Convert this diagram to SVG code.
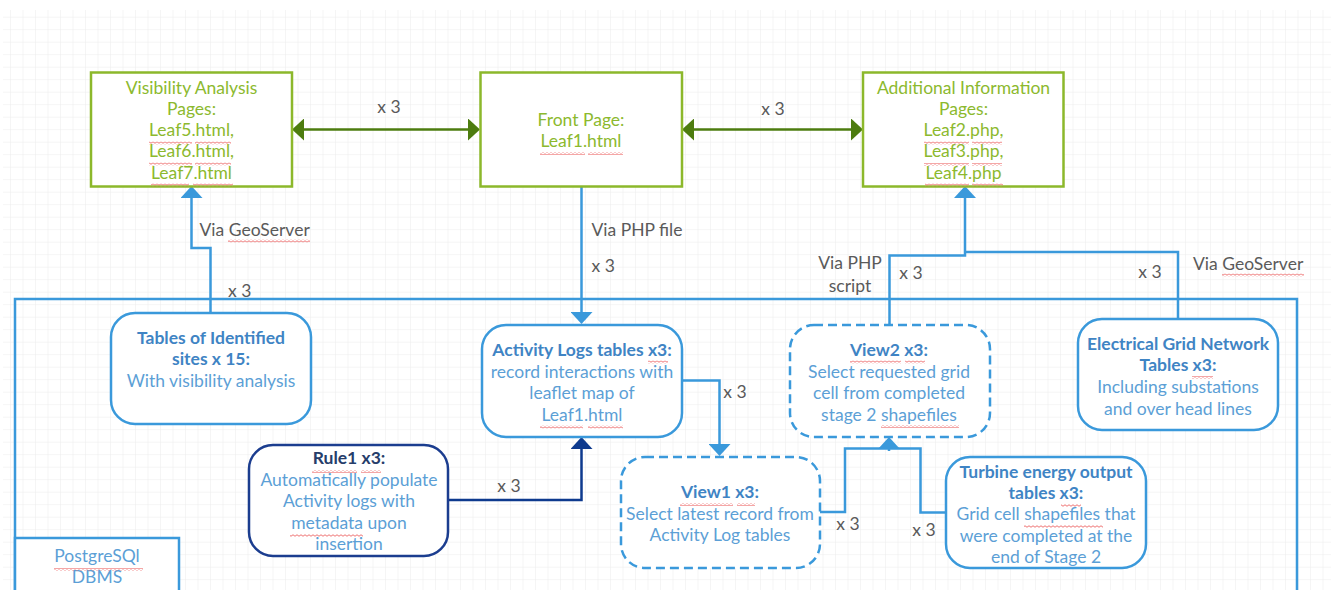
<svg xmlns="http://www.w3.org/2000/svg" width="1331" height="590" viewBox="0 0 1331 590">
<style>
text{font-family:Lato,"Open Sans","Liberation Sans",sans-serif;font-size:17.5px}
.gbox{fill:#fff;stroke:#8cb82b;stroke-width:2.5}
.gt{fill:#8cb92e;text-anchor:middle}
.bbox{fill:#fff;stroke:#3a99db;stroke-width:2.5}
.dash{stroke-dasharray:9 5}
.nbox{fill:#fff;stroke:#1b3d8f;stroke-width:2.5}
.bt{fill:#5c9fd6;text-anchor:middle}
.bh{fill:#3f84c4;font-weight:bold}
.nh{fill:#263d6a;font-weight:bold}
.lbl{fill:#5a5a5a}
.mid{text-anchor:middle}
.gc{fill:none;stroke:#4d7c0f;stroke-width:2.5}
.bc{fill:none;stroke:#3a99db;stroke-width:2.5}
.nc{fill:none;stroke:#0e3a8e;stroke-width:2.5}
.sq{fill:url(#squig)}
</style>
<defs>
<pattern id="grid" width="12.5" height="12.5" patternUnits="userSpaceOnUse" x="10" y="4.2">
<path d="M0,0 H12.5 M0,0 V12.5" fill="none" stroke="#ececec" stroke-width="1"/>
</pattern>
<pattern id="squig" width="4" height="3" patternUnits="userSpaceOnUse">
<path d="M0,1.5 Q1,0 2,1.5 T4,1.5" fill="none" stroke="#ee7272" stroke-width="1"/>
</pattern>
<marker id="ag" markerUnits="userSpaceOnUse" markerWidth="12" markerHeight="22" viewBox="0 0 12 22" refX="0" refY="11" orient="auto-start-reverse">
<path d="M0,0 L12,11 L0,22 z" fill="#4d7c0f"/>
</marker>
<marker id="ab" markerUnits="userSpaceOnUse" markerWidth="12" markerHeight="22" viewBox="0 0 12 22" refX="0" refY="11" orient="auto">
<path d="M0,0 L12,11 L0,22 z" fill="#3a99db"/>
</marker>
<marker id="an" markerUnits="userSpaceOnUse" markerWidth="12" markerHeight="22" viewBox="0 0 12 22" refX="0" refY="11" orient="auto">
<path d="M0,0 L12,11 L0,22 z" fill="#0e3a8e"/>
</marker>
</defs>
<rect width="1331" height="590" fill="#fff"/>
<rect x="3" y="10" width="1328" height="580" fill="url(#grid)"/>

<g id="connectors">
<path class="bc" d="M15,595 V299 H1297 V595"/>
<path class="gc" d="M304,129.5 H468" marker-start="url(#ag)" marker-end="url(#ag)"/>
<path class="gc" d="M694,129.5 H851" marker-start="url(#ag)" marker-end="url(#ag)"/>
<path class="bc" d="M210.5,313 V248 H191.5 V198" marker-end="url(#ab)"/>
<path class="bc" d="M581.5,186 V312" marker-end="url(#ab)"/>
<path class="bc" d="M889.5,325 V255.5 H965 V198" marker-end="url(#ab)"/>
<path class="bc" d="M1178,319 V252 H965"/>
<path class="bc" d="M682,380.5 H719.5 V444" marker-end="url(#ab)"/>
<path class="bc" d="M820,512 H845 V448.5 H920.5 V512.5 H946"/>
<path class="bc" d="M889,451 V449" marker-end="url(#ab)"/>
<path class="nc" d="M448,500 H581.5 V449" marker-end="url(#an)"/>
<text class="lbl mid" x="389" y="113">x 3</text>
<text class="lbl mid" x="773" y="115">x 3</text>
<text class="lbl" x="199.5" y="235.5">Via GeoServer</text>
<rect class="sq" x="228" y="239.5" width="82" height="3"/>
<text class="lbl" x="228" y="297">x 3</text>
<text class="lbl" x="591.5" y="235.5">Via PHP file</text>
<text class="lbl" x="591.5" y="272">x 3</text>
<text class="lbl mid" x="850" y="269">Via PHP</text>
<text class="lbl mid" x="850" y="291.5">script</text>
<text class="lbl mid" x="911" y="278.5">x 3</text>
<text class="lbl mid" x="1150" y="278">x 3</text>
<text class="lbl" x="1193" y="270">Via GeoServer</text>
<rect class="sq" x="1222" y="273.5" width="82" height="3"/>
<text class="lbl mid" x="735" y="398">x 3</text>
<text class="lbl mid" x="509" y="492">x 3</text>
<text class="lbl mid" x="848" y="530">x 3</text>
<text class="lbl mid" x="924" y="536">x 3</text>
</g>

<g id="visibility-pages">
<rect class="gbox" x="91" y="72.5" width="201" height="114"/>
<text class="gt"><tspan x="191.5" y="93.5">Visibility Analysis</tspan><tspan x="191.5" y="114.5">Pages:</tspan><tspan x="191.5" y="136">Leaf5.html,</tspan><tspan x="191.5" y="157">Leaf6.html,</tspan><tspan x="191.5" y="178.5">Leaf7.html</tspan></text>
<rect class="sq" x="149" y="141.5" width="43" height="3"/><rect class="sq" x="195" y="141.5" width="36" height="3"/>
<rect class="sq" x="149" y="162.5" width="43" height="3"/><rect class="sq" x="195" y="162.5" width="36" height="3"/>
<rect class="sq" x="151" y="183.5" width="38" height="3"/><rect class="sq" x="193" y="183.5" width="40" height="3"/>
</g>

<g id="front-page">
<rect class="gbox" x="480.5" y="72.5" width="201.5" height="114"/>
<text class="gt"><tspan x="581" y="126">Front Page:</tspan><tspan x="581" y="147">Leaf1.html</tspan></text>
<rect class="sq" x="540" y="152" width="45" height="3"/><rect class="sq" x="588" y="152" width="35" height="3"/>
</g>

<g id="additional-pages">
<rect class="gbox" x="863" y="72.5" width="200.5" height="114"/>
<text class="gt"><tspan x="963.5" y="93.5">Additional Information</tspan><tspan x="963.5" y="114.5">Pages:</tspan><tspan x="963.5" y="136">Leaf2.php,</tspan><tspan x="963.5" y="157">Leaf3.php,</tspan><tspan x="963.5" y="178.5">Leaf4.php</tspan></text>
<rect class="sq" x="924" y="141.5" width="45" height="3"/><rect class="sq" x="972" y="141.5" width="30" height="3"/>
<rect class="sq" x="924" y="163" width="45" height="3"/><rect class="sq" x="972" y="163" width="30" height="3"/>
<rect class="sq" x="925" y="183.5" width="44" height="3"/><rect class="sq" x="972" y="183.5" width="31" height="3"/>
</g>

<g id="identified-sites">
<rect class="bbox" x="111" y="313" width="200" height="111" rx="24"/>
<text class="bt"><tspan class="bh" x="211" y="343.5">Tables of Identified</tspan><tspan class="bh" x="211" y="365">sites x 15:</tspan><tspan x="211" y="386.5">With visibility analysis</tspan></text>
</g>

<g id="activity-logs">
<rect class="bbox" x="482" y="325" width="200" height="112" rx="24"/>
<text class="bt"><tspan class="bh" x="582" y="356">Activity Logs tables x3:</tspan><tspan x="582" y="377.5">record interactions with</tspan><tspan x="582" y="399">leaflet map of</tspan><tspan x="582" y="421">Leaf1.html</tspan></text>
<rect class="sq" x="648" y="360.5" width="20" height="3"/>
<rect class="sq" x="540" y="425.5" width="43" height="3"/><rect class="sq" x="588" y="425.5" width="35" height="3"/>
</g>

<g id="view2">
<rect class="bbox dash" x="790" y="325" width="200" height="112" rx="24"/>
<text class="bt"><tspan class="bh" x="889" y="356">View2 x3:</tspan><tspan x="889" y="377.5">Select requested grid</tspan><tspan x="889" y="399">cell from completed</tspan><tspan x="889" y="421">stage 2 shapefiles</tspan></text>
<rect class="sq" x="850" y="360.5" width="51" height="3"/><rect class="sq" x="905" y="360.5" width="20" height="3"/>
<rect class="sq" x="881" y="425" width="78" height="3"/>
</g>

<g id="electrical-grid">
<rect class="bbox" x="1078" y="319" width="200" height="111" rx="24"/>
<text class="bt"><tspan class="bh" x="1178" y="349.5">Electrical Grid Network</tspan><tspan class="bh" x="1178" y="371">Tables x3:</tspan><tspan x="1178" y="392.5">Including substations</tspan><tspan x="1178" y="414.5">and over head lines</tspan></text>
<rect class="sq" x="1192" y="376" width="21" height="3"/>
</g>

<g id="rule1">
<rect class="nbox" x="249" y="445" width="199" height="111" rx="24"/>
<text class="bt"><tspan class="nh" x="349" y="464">Rule1 x3:</tspan><tspan x="349" y="485.5">Automatically populate</tspan><tspan x="349" y="507">Activity logs with</tspan><tspan x="349" y="528.5">metadata upon</tspan><tspan x="349" y="549.5">insertion</tspan></text>
<rect class="sq" x="312" y="470" width="45" height="3"/><rect class="sq" x="361" y="470" width="20" height="3"/>
<rect class="sq" x="290" y="534" width="73" height="3"/>
</g>

<g id="view1">
<rect class="bbox dash" x="621" y="457" width="199" height="111" rx="24"/>
<text class="bt"><tspan class="bh" x="720" y="498">View1 x3:</tspan><tspan x="720" y="519.5">Select latest record from</tspan><tspan x="720" y="541">Activity Log tables</tspan></text>
<rect class="sq" x="680" y="503" width="53" height="3"/><rect class="sq" x="737" y="503" width="18" height="3"/>
</g>

<g id="turbine-output">
<rect class="bbox" x="946" y="457" width="200" height="111" rx="24"/>
<text class="bt"><tspan class="bh" x="1046" y="478">Turbine energy output</tspan><tspan class="bh" x="1046" y="498.5">tables x3:</tspan><tspan x="1046" y="520">Grid cell shapefiles that</tspan><tspan x="1046" y="541.5">were completed at the</tspan><tspan x="1046" y="563">end of Stage 2</tspan></text>
<rect class="sq" x="1061" y="504" width="20" height="3"/>
<rect class="sq" x="1024" y="525" width="79" height="3"/>
</g>

<g id="postgresql">
<rect class="bbox" x="15" y="538" width="164" height="60"/>
<text class="bt"><tspan x="97" y="562">PostgreSQl</tspan><tspan x="97" y="583">DBMS</tspan></text>
<rect class="sq" x="54" y="568" width="89" height="3"/>
</g>
</svg>
